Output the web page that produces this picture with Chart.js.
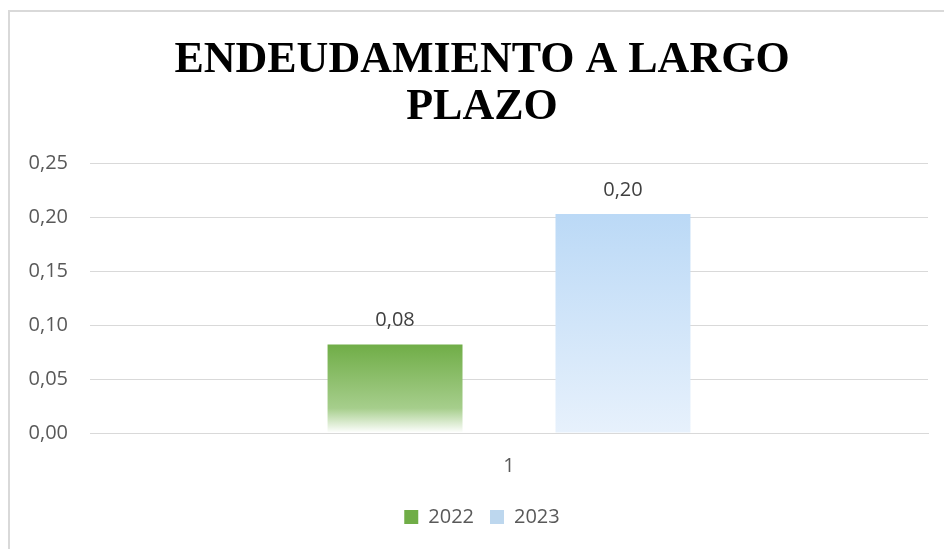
<!DOCTYPE html>
<html lang="es">
<head>
    <meta charset="UTF-8">
    <title>Endeudamiento a largo plazo</title>
    <script src="https://cdn.jsdelivr.net/npm/chart.js"></script>
    <style>
        html, body { margin: 0; padding: 0; background: #fff; }
        #frame {
            position: absolute; left: 8px; top: 10px;
            width: 934px; height: 537px;
            border-left: 2px solid #d9d9d9; border-top: 2px solid #d9d9d9;
        }
    </style>
</head>
<body>
    <div id="frame">
        <canvas id="endeudamientoChart" width="934" height="537"></canvas>
    </div>
    <script>
        const categories = ['1'];
        const seriesNames = ['2022', '2023'];
        const values2022 = [0.082];
        const values2023 = [0.203];
        const seriesColors = ['#70AD47', '#BDD7EE'];
        const titleLines = ['ENDEUDAMIENTO A LARGO', 'PLAZO'];

        const fmt = v => v.toFixed(2).replace('.', ',');

        // vertical gradient running from the top of the bar to the zero line
        function barGradient(stops, solid) {
            return ctx => {
                const chart = ctx.chart;
                const y = chart.scales.y;
                if (!y || ctx.raw === undefined) return solid;
                const top = y.getPixelForValue(ctx.raw);
                const base = y.getPixelForValue(0);
                if (!isFinite(top) || !isFinite(base) || top === base) return solid;
                const g = chart.ctx.createLinearGradient(0, top, 0, base);
                stops.forEach(s => g.addColorStop(s[0], s[1]));
                return g;
            };
        }

        const valueLabels = {
            id: 'valueLabels',
            afterDatasetsDraw(chart) {
                const c = chart.ctx;
                c.save();
                c.font = '20px "Open Sans"';
                c.fillStyle = '#404040';
                c.textAlign = 'center';
                c.textBaseline = 'middle';
                chart.data.datasets.forEach((ds, i) => {
                    chart.getDatasetMeta(i).data.forEach((bar, j) => {
                        c.fillText(fmt(ds.data[j]), bar.x, bar.y - 24);
                    });
                });
                c.restore();
            }
        };

        const tickFont = { family: '"Open Sans"', size: 20 };

        new Chart(document.getElementById('endeudamientoChart'), {
            type: 'bar',
            data: {
                labels: categories,
                datasets: [{
                    label: seriesNames[0],
                    data: values2022,
                    backgroundColor: barGradient([[0, '#70AD47'], [0.72, '#A6CE8C'], [1, '#FFFFFF']], seriesColors[0]),
                    categoryPercentage: 0.544,
                    barPercentage: 0.592
                }, {
                    label: seriesNames[1],
                    data: values2023,
                    backgroundColor: barGradient([[0, '#BBD9F6'], [1, '#E7F1FC']], seriesColors[1]),
                    categoryPercentage: 0.544,
                    barPercentage: 0.592
                }]
            },
            options: {
                responsive: false,
                animation: false,
                layout: { padding: { top: 0, right: 16, bottom: 12, left: 26 } },
                plugins: {
                    title: {
                        display: true,
                        text: titleLines,
                        color: '#000',
                        font: { family: '"Liberation Serif"', size: 44, weight: 'bold', lineHeight: 1.07 },
                        padding: { top: 25, bottom: 32 }
                    },
                    legend: {
                        position: 'bottom',
                        labels: {
                            color: '#595959',
                            font: tickFont,
                            boxWidth: 14,
                            boxHeight: 14,
                            padding: 16,
                            generateLabels(chart) {
                                return chart.data.datasets.map((ds, i) => ({
                                    text: ds.label,
                                    fillStyle: seriesColors[i],
                                    strokeStyle: seriesColors[i],
                                    lineWidth: 0,
                                    fontColor: '#595959',
                                    hidden: !chart.isDatasetVisible(i),
                                    datasetIndex: i
                                }));
                            }
                        }
                    },
                    tooltip: { enabled: false }
                },
                scales: {
                    x: {
                        grid: { display: false },
                        border: { color: '#d9d9d9', width: 1 },
                        ticks: {
                            color: '#595959',
                            font: tickFont,
                            padding: 13
                        }
                    },
                    y: {
                        min: 0,
                        max: 0.25,
                        afterFit(scale) {
                            scale.width = 54;
                            // labels sit partly in the left padding, so do not clip them to the axis box
                            scale._computeLabelArea = () => null;
                        },
                        grid: { color: '#d9d9d9', drawTicks: false },
                        border: { display: false },
                        ticks: {
                            stepSize: 0.05,
                            color: '#595959',
                            font: tickFont,
                            padding: 22,
                            callback: v => fmt(v)
                        }
                    }
                }
            },
            plugins: [valueLabels]
        });
    </script>
</body>
</html>
